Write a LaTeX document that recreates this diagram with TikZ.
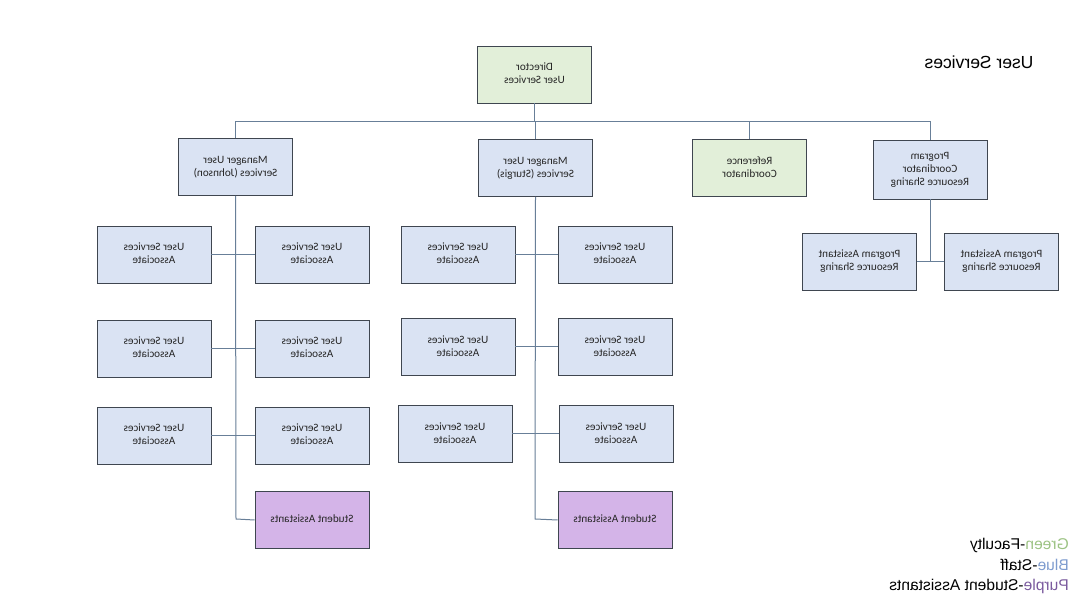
\documentclass[tikz,border=0pt]{standalone}
\usepackage{fontspec}
\setmainfont{Carlito}
\newfontfamily\titlefont{Liberation Sans}
\newcommand{\mirtxt}[1]{\reflectbox{\begin{tabular}{@{}c@{}}#1\end{tabular}}}
\newcommand{\mirleft}[1]{\reflectbox{\begin{tabular}{@{}l@{}}#1\end{tabular}}}
\definecolor{gfill}{HTML}{E2EFD9}
\definecolor{bfill}{HTML}{DAE3F3}
\definecolor{pfill}{HTML}{D4B4E8}
\definecolor{bordc}{HTML}{3F4650}
\definecolor{linec}{HTML}{687F98}
\definecolor{leggreen}{HTML}{9CC383}
\definecolor{legblue}{HTML}{7E9CCF}
\definecolor{legpurple}{HTML}{7A5A9E}
\tikzset{
  box/.style={draw=bordc, line width=0.9pt, minimum width=114pt, minimum height=57pt, inner sep=1pt, font=\fontsize{11.2}{13}\selectfont, text=black!85},
  green box/.style={box, fill=gfill},
  blue box/.style={box, fill=bfill},
  purple box/.style={box, fill=pfill},
  conn/.style={draw=linec, line width=1pt}
}
\begin{document}
\begin{tikzpicture}[x=1pt, y=-1pt]
\useasboundingbox (0,0) rectangle (1088,612);
\fill[white] (0,0) rectangle (1088,612);
\coordinate (bus) at (534.5,122);
\coordinate (jt) at (236,519);
\coordinate (st) at (535,519);
% top level
\node[green box] (dir) at (534.5,74.5) {\mirtxt{Director\\User Services}};
\node[blue box] (mj) at (235.5,167) {\mirtxt{Manager User\\Services (Johnson)}};
\node[blue box] (ms) at (535.5,168) {\mirtxt{Manager User\\Services (Sturgis)}};
\node[green box] (rc) at (749.5,168) {\mirtxt{Reference\\Coordinator}};
\node[blue box, minimum height=59pt] (pc) at (930,169.5) {\mirtxt{Program\\Coordinator\\Resource Sharing}};
\node[blue box] (pa1) at (859.5,261.5) {\mirtxt{Program Assistant\\Resource Sharing}};
\node[blue box] (pa2) at (1001.5,261.5) {\mirtxt{Program Assistant\\Resource Sharing}};
% Johnson column
\node[blue box] (j1l) at (154,254.5) {\mirtxt{User Services\\Associate}};
\node[blue box] (j1r) at (312,254.5) {\mirtxt{User Services\\Associate}};
\node[blue box] (j2l) at (154,348.5) {\mirtxt{User Services\\Associate}};
\node[blue box] (j2r) at (312,348.5) {\mirtxt{User Services\\Associate}};
\node[blue box] (j3l) at (154,435.5) {\mirtxt{User Services\\Associate}};
\node[blue box] (j3r) at (312,435.5) {\mirtxt{User Services\\Associate}};
\node[purple box] (js) at (312,520) {\mirtxt{Student Assistants}};
% Sturgis column
\node[blue box] (s1l) at (458,254.5) {\mirtxt{User Services\\Associate}};
\node[blue box] (s1r) at (615,254.5) {\mirtxt{User Services\\Associate}};
\node[blue box] (s2l) at (458,347) {\mirtxt{User Services\\Associate}};
\node[blue box] (s2r) at (615,347) {\mirtxt{User Services\\Associate}};
\node[blue box] (s3l) at (455,434) {\mirtxt{User Services\\Associate}};
\node[blue box] (s3r) at (616,434) {\mirtxt{User Services\\Associate}};
\node[purple box] (ss) at (615,520) {\mirtxt{Student Assistants}};
% connectors
\path[conn] (dir.south) -- (bus);
\path[conn] (mj.north) -- (mj.north |- bus) -- (pc.north |- bus) -- (pc.north);
\path[conn] (ms.north) -- (ms.north |- bus);
\path[conn] (rc.north) -- (rc.north |- bus);
\path[conn] (pc.south) -- (pc.south |- pa1.east);
\path[conn] (pa1.east) -- (pa2.west);
\path[conn] (mj.south) -- (jt) -- (js.west);
\path[conn] (j1l.east) -- (j1r.west);
\path[conn] (j2l.east) -- (j2r.west);
\path[conn] (j3l.east) -- (j3r.west);
\path[conn] (ms.south) -- (st) -- (ss.west);
\path[conn] (s1l.east) -- (s1r.west);
\path[conn] (s2l.east) -- (s2r.west);
\path[conn] (s3l.east) -- (s3r.west);
% title and legend
\node[font=\titlefont\fontsize{17.5}{20}\selectfont] (title) at (979,62) {\reflectbox{User Services}};
\node[anchor=east, font=\titlefont\fontsize{15.6}{20.5}\selectfont, inner sep=0pt] (legend) at (1069,566) {\mirleft{\textcolor{leggreen}{Green}-Faculty\\\textcolor{legblue}{Blue}-Staff\\\textcolor{legpurple}{Purple}-Student Assistants}};
\end{tikzpicture}
\end{document}
